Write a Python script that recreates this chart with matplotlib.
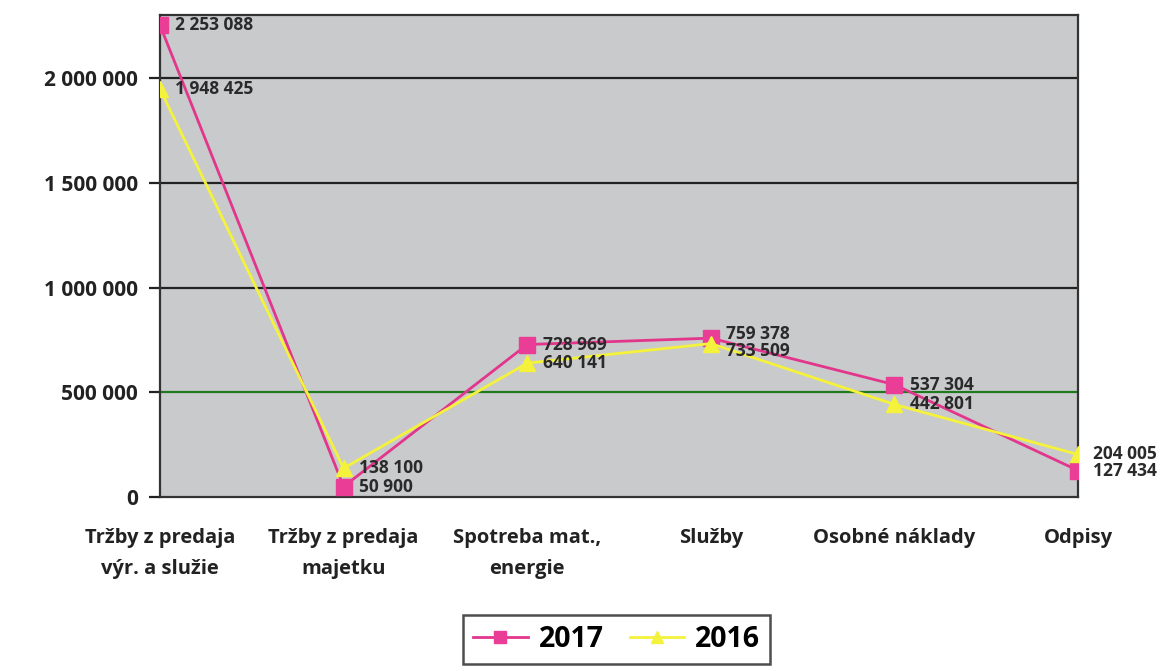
'''
plot.py
Line chart of revenues and costs, 2017 vs 2016
'''

# Import Libs
import numpy as np
import matplotlib.pyplot as plt

plt.rcParams['font.family'] = ['Open Sans', 'DejaVu Sans']

# Data
categories = ['Tržby z predaja\nvýr. a služie', 'Tržby z predaja\nmajetku',
              'Spotreba mat.,\nenergie', 'Služby', 'Osobné náklady', 'Odpisy']
vals_2017 = [2253088, 50900, 728969, 759378, 537304, 127434]
vals_2016 = [1948425, 138100, 640141, 733509, 442801, 204005]
yticks = [0, 500000, 1000000, 1500000, 2000000]

def fmt(v):
	return '{:,}'.format(v).replace(',', ' ')

fig = plt.figure(figsize=(11.68, 6.71), dpi=100)
ax = fig.add_axes([0.137, 0.259, 0.786, 0.718])
ax.set_facecolor('#c9cacc')

x = np.arange(len(categories))

# grid lines (the 500 000 one is green)
for yv in yticks[1:]:
	ax.axhline(yv, color='#1f7a1f' if yv == 500000 else '#222222', lw=1.6, zorder=1)

ax.plot(x, vals_2017, color='#e2368c', lw=2, marker='s', markersize=11,
        markerfacecolor='#ea3d95', markeredgecolor='#ea3d95', label='2017', zorder=3)
ax.plot(x, vals_2016, color='#f4f23a', lw=2, marker='^', markersize=11,
        markerfacecolor='#f4f23a', markeredgecolor='#f4f23a', label='2016', zorder=3)

# data labels (Služby labels nudged apart slightly so they stay readable)
nudge_2017 = [0, 0, 0, 3, 0, 0]
nudge_2016 = [0, 0, 0, -5, 0, 0]
for xi, v, dy in zip(x, vals_2017, nudge_2017):
	ax.annotate(fmt(v), (xi, v), xytext=(11, dy), textcoords='offset points',
	            va='center', ha='left', fontsize=12.5, fontweight='bold', color='#2a2a2a', zorder=4,
	            annotation_clip=False)
for xi, v, dy in zip(x, vals_2016, nudge_2016):
	ax.annotate(fmt(v), (xi, v), xytext=(11, dy), textcoords='offset points',
	            va='center', ha='left', fontsize=12.5, fontweight='bold', color='#2a2a2a', zorder=4,
	            annotation_clip=False)

ax.set_xlim(0, 5)
ax.set_ylim(0, 2300000)
ax.set_yticks(yticks)
ax.set_yticklabels([fmt(v) for v in yticks], fontsize=15, fontweight='bold', color='#222222')
ax.set_xticks(x)
ax.set_xticklabels(categories, fontsize=14.5, fontweight='bold', color='#222222', linespacing=1.75)
ax.tick_params(axis='y', length=8, width=1.6, color='#222222', pad=8)
ax.tick_params(axis='x', length=0, pad=22)

for s in ['top', 'right', 'left', 'bottom']:
	ax.spines[s].set_color('#333333')
	ax.spines[s].set_linewidth(1.6)

leg = fig.legend(loc='upper center', bbox_to_anchor=(0.528, 0.083), ncol=2,
                 prop={'weight': 'bold', 'size': 20.5}, frameon=True, fancybox=False,
                 handlelength=1.9, handletextpad=0.4, columnspacing=0.9, borderpad=0.35,
                 borderaxespad=0, markerscale=0.75)
leg.get_frame().set_edgecolor('#222222')
leg.get_frame().set_linewidth(1.8)

fig.savefig('out.png', dpi=100)
